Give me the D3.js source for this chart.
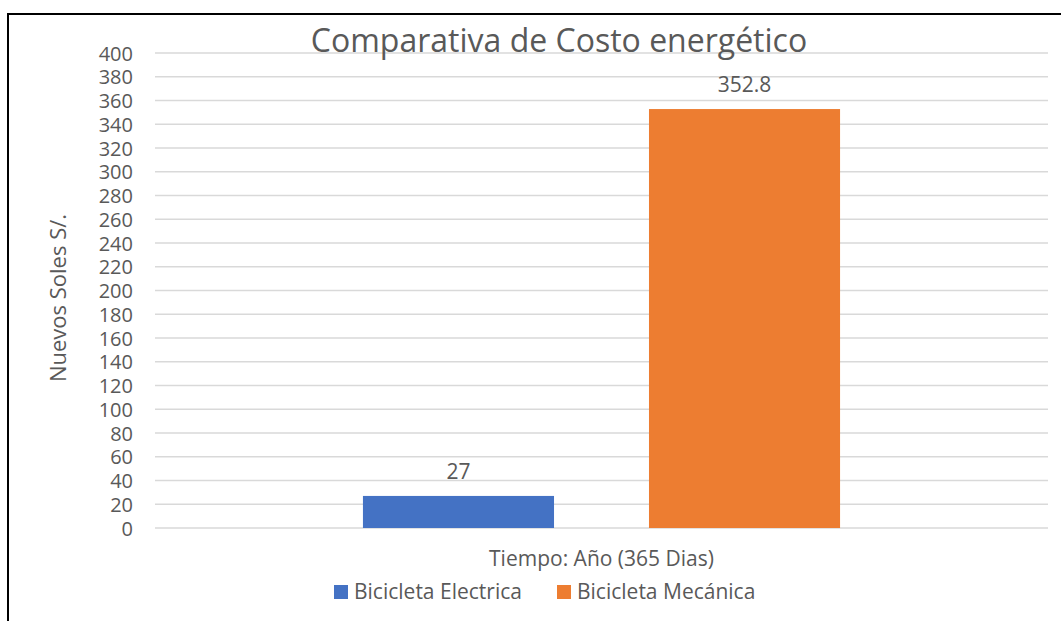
<!DOCTYPE html>
<html>
<head>
<meta charset="utf-8">
<script src="https://cdn.jsdelivr.net/npm/d3@7"></script>
<style>
  html, body { margin: 0; padding: 0; background: #fff; }
  svg { display: block; }
  text { font-family: "Open Sans", "Noto Sans", sans-serif; fill: #595959; }
</style>
</head>
<body>
<svg id="chart" width="1061" height="621"></svg>
<script>
// Annual energy cost per bicycle type
const categories = ["Tiempo: Año (365 Dias)"];
const seriesNames = ["Bicicleta Electrica", "Bicicleta Mecánica"];
const seriesValues = [27, 352.8];
const seriesColors = ["#4472C4", "#ED7D31"];
const yTicks = d3.range(0, 401, 20);

const W = 1061, H = 621;
const margin = { left: 155, right: 13, top: 53, bottom: 93 };
const svg = d3.select("#chart");

// outer frame
svg.append("rect")
  .attr("x", 8).attr("y", 14)
  .attr("width", W + 20).attr("height", H + 20)
  .attr("fill", "none").attr("stroke", "#000").attr("stroke-width", 2);

const x0 = d3.scaleBand()
  .domain(categories)
  .range([margin.left, W - margin.right]);

const x1 = d3.scaleBand()
  .domain(seriesNames)
  .range([0, x0.bandwidth()])
  .paddingInner(0.332)
  .paddingOuter(0.727);

const y = d3.scaleLinear()
  .domain([0, 400])
  .range([H - margin.bottom, margin.top]);

// gridlines
svg.append("g")
  .selectAll("line")
  .data(yTicks)
  .join("line")
  .attr("x1", margin.left).attr("x2", W - margin.right)
  .attr("y1", d => y(d)).attr("y2", d => y(d))
  .attr("stroke", "#d9d9d9").attr("stroke-width", 1.5);

// y axis labels
const yAxis = d3.axisLeft(y).tickValues(yTicks).tickSize(0).tickPadding(0);
const yg = svg.append("g")
  .attr("transform", `translate(${133},0)`)
  .call(yAxis);
yg.select(".domain").remove();
yg.selectAll("text")
  .attr("font-size", 20)
  .attr("font-family", "Open Sans")
  .attr("fill", "#595959")
  .attr("dy", "0.35em");

// title
svg.append("text")
  .attr("x", 559).attr("y", 52)
  .attr("text-anchor", "middle")
  .attr("font-size", 32)
  .text("Comparativa de Costo energético");

// bars
const barData = seriesNames.map((s, i) => ({ cat: categories[0], name: s, value: seriesValues[i], color: seriesColors[i] }));
const bars = svg.append("g");
bars.selectAll("rect")
  .data(barData)
  .join("rect")
  .attr("x", d => x0(d.cat) + x1(d.name))
  .attr("width", x1.bandwidth())
  .attr("y", d => y(d.value))
  .attr("height", d => y(0) - y(d.value))
  .attr("fill", d => d.color);

// value labels
bars.selectAll("text")
  .data(barData)
  .join("text")
  .attr("x", d => x0(d.cat) + x1(d.name) + x1.bandwidth() / 2)
  .attr("y", d => y(d.value) - 17)
  .attr("text-anchor", "middle")
  .attr("font-size", 21)
  .attr("fill", "#404040")
  .text(d => d.value);

// x axis title
svg.append("text")
  .attr("x", x0(categories[0]) + x0.bandwidth() / 2)
  .attr("y", 566)
  .attr("text-anchor", "middle")
  .attr("font-size", 21)
  .text(categories[0]);

// y axis title
svg.append("text")
  .attr("transform", `translate(66,${298}) rotate(-90)`)
  .attr("text-anchor", "middle")
  .attr("font-size", 22)
  .text("Nuevos Soles S/.");

// legend
const legendItems = [
  { name: seriesNames[0], color: seriesColors[0], x: 334 },
  { name: seriesNames[1], color: seriesColors[1], x: 557 }
];
const lg = svg.append("g");
const li = lg.selectAll("g").data(legendItems).join("g")
  .attr("transform", d => `translate(${d.x},585)`);
li.append("rect").attr("width", 14).attr("height", 14).attr("fill", d => d.color);
li.append("text").attr("x", 20).attr("y", 14).attr("font-size", 21).text(d => d.name);
</script>
</body>
</html>
